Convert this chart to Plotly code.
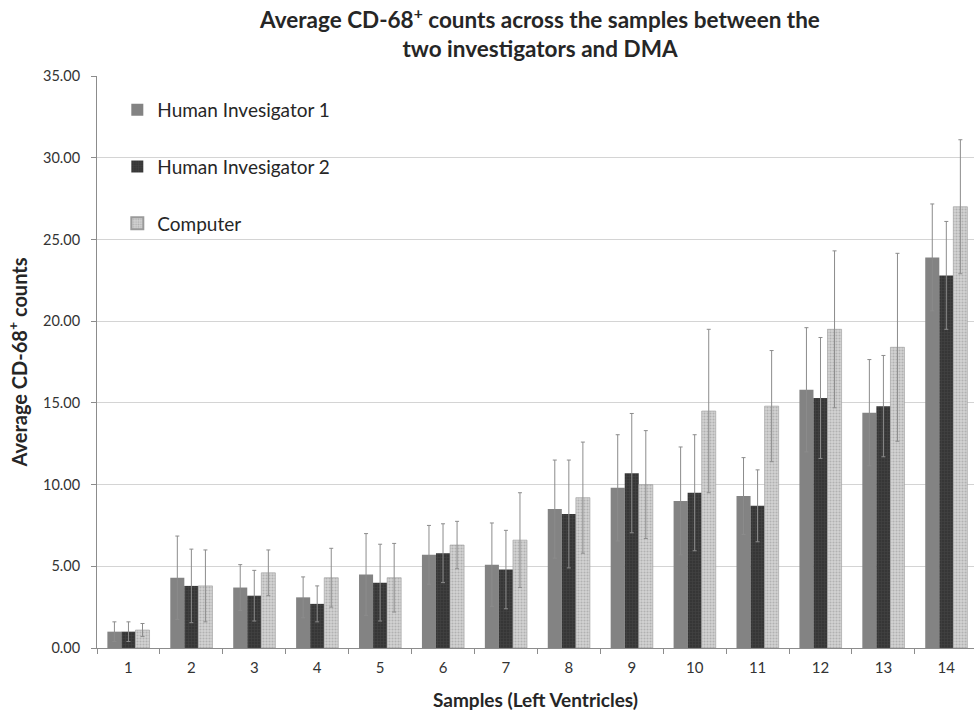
import plotly.graph_objects as go

samples = [str(i) for i in range(1, 15)]

h1_vals = [1.0, 4.3, 3.7, 3.1, 4.5, 5.7, 5.1, 8.5, 9.8, 9.0, 9.3, 15.8, 14.4, 23.9]
h1_err = [0.6, 2.55, 1.4, 1.25, 2.5, 1.8, 2.55, 3.0, 3.25, 3.3, 2.35, 3.8, 3.25, 3.27]

h2_vals = [1.0, 3.8, 3.2, 2.7, 4.0, 5.8, 4.8, 8.2, 10.7, 9.5, 8.7, 15.3, 14.8, 22.8]
h2_err = [0.6, 2.25, 1.55, 1.1, 2.35, 1.8, 2.4, 3.3, 3.65, 3.55, 2.2, 3.7, 3.1, 3.3]

comp_vals = [1.1, 3.8, 4.6, 4.3, 4.3, 6.3, 6.6, 9.2, 10.0, 14.5, 14.8, 19.5, 18.4, 27.0]
comp_err = [0.4, 2.2, 1.4, 1.8, 2.1, 1.45, 2.9, 3.4, 3.3, 5.0, 3.4, 4.8, 5.75, 4.1]

y_ticks = [0, 5, 10, 15, 20, 25, 30, 35]
y_tick_text = ["0.00", "5.00", "10.00", "15.00", "20.00", "25.00", "30.00", "35.00"]

FONT = "Lato, Open Sans, sans-serif"

def err(vals):
    return dict(type="data", array=vals, visible=True, color="#8c8c8c", thickness=1, width=2)

fig = go.Figure()
fig.add_trace(go.Bar(
    x=samples, y=h1_vals, name="Human Invesigator 1", legendgroup="a",
    marker=dict(color="#838383", line=dict(width=0)),
    error_y=err(h1_err),
))
fig.add_trace(go.Bar(
    x=samples, y=h2_vals, name="Human Invesigator 2", legendgroup="b",
    marker=dict(color="#3c3c3c", line=dict(width=0),
                pattern=dict(shape="+", fgcolor="#555555", bgcolor="#363636", size=3, solidity=0.3)),
    error_y=err(h2_err),
))
fig.add_trace(go.Bar(
    x=samples, y=comp_vals, name="Computer", legendgroup="c",
    marker=dict(color="#c8c8c8", line=dict(width=0.6, color="#9a9a9a"),
                pattern=dict(shape=".", fgcolor="#8e8e8e", bgcolor="#d4d4d4", size=3, solidity=0.4)),
    error_y=err(comp_err),
))

fig.update_layout(
    width=974, height=715,
    margin=dict(l=97, r=0, t=76, b=67, autoexpand=False),
    paper_bgcolor="white", plot_bgcolor="white",
    barmode="group", bargap=0.33, bargroupgap=0,
    font=dict(family=FONT, color="#333333"),
    title=dict(
        text="<b>Average CD-68<sup>+</sup> counts across the samples between the<br>two investigators and DMA</b>",
        x=540 / 974, xanchor="center", xref="container",
        y=1 - 28 / 715, yanchor="middle", yref="container",
        font=dict(size=22.5, family=FONT, color="#262626"),
    ),
    legend=dict(
        x=0.03 - 6 / 877, y=0.965 + 5 / 572, xanchor="left", yanchor="top",
        font=dict(size=19, family=FONT, color="#262626"),
        bgcolor="rgba(0,0,0,0)", tracegroupgap=29, itemsizing="constant",
    ),
    showlegend=True,
)
fig.update_xaxes(
    type="category", range=[-0.5, 13.44], automargin=False,
    tickson="boundaries", ticks="outside", ticklen=5, tickcolor="#8c8c8c",
    ticklabelstandoff=6,
    showline=True, linecolor="#8c8c8c", linewidth=1,
    showgrid=False,
    tickfont=dict(size=15, family=FONT, color="#333333"),
    title=dict(text="<b>Samples (Left Ventricles)</b>", font=dict(size=19, family=FONT, color="#262626"), standoff=18),
)
fig.update_yaxes(
    range=[0, 35], tickvals=y_ticks, ticktext=y_tick_text, automargin=False,
    ticks="outside", ticklen=5, tickcolor="#8c8c8c",
    ticklabelstandoff=8,
    showline=True, linecolor="#8c8c8c", linewidth=1,
    showgrid=True, gridcolor="#d4d4d4", gridwidth=1,
    zeroline=False,
    tickfont=dict(size=14.5, family=FONT, color="#333333"),
    title=dict(text="<b>Average CD-68<sup>+</sup> counts</b>", font=dict(size=20, family=FONT, color="#262626"), standoff=10),
)

fig.write_html("out.html", config={"displayModeBar": False})

with open("out.html", "r", encoding="utf-8") as f:
    html = f.read()
html = html.replace("<body>", '<body style="margin:0;padding:0;">', 1)
with open("out.html", "w", encoding="utf-8") as f:
    f.write(html)
